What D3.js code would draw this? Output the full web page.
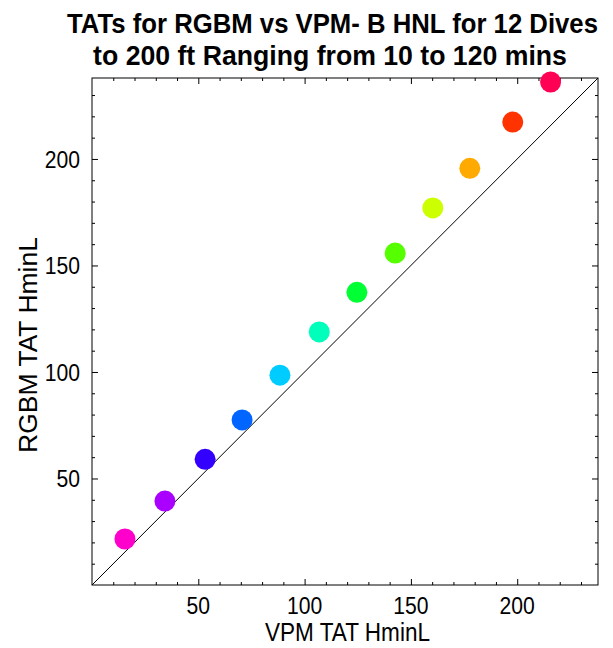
<!DOCTYPE html>
<html><head><meta charset="utf-8">
<script src="https://cdn.jsdelivr.net/npm/d3@7"></script>
<style>body{margin:0;background:#fff}svg{display:block}</style>
</head><body>
<script>
const vpmTAT  = [15.5, 34.3, 53.2, 70.6, 88.4, 106.9, 124.6, 142.6, 160.3, 177.7, 197.9, 215.7];
const rgbmTAT = [21.6, 39.4, 59.0, 77.5, 98.5, 118.8, 137.4, 155.8, 177.0, 195.6, 217.3, 236.1];
const dotColors = ["#FF00CC","#AA00FF","#3300FF","#0066FF","#00CCFF","#00FFBB","#00FF33","#55FF00","#CCFF00","#FFAA00","#FF3300","#FF0055"];
const majorTicks = [50, 100, 150, 200];
const minorTicks = d3.range(10, 240, 10);
const titleLines = ["TATs for RGBM vs VPM- B HNL for 12 Dives", "to 200 ft Ranging from 10 to 120 mins"];
const xLabel = "VPM  TAT HminL";
const yLabel = "RGBM TAT HminL";
const domainMax = 238;

const W = 613, H = 648;
const L = 92, R = 598, T = 78, B = 585;
const FONT = "'Liberation Sans', Arial, sans-serif";
const svg = d3.select("body").append("svg").attr("width", W).attr("height", H)
  .style("font-family", FONT);

const x = d3.scaleLinear().domain([0, domainMax]).range([L, R]);
const y = d3.scaleLinear().domain([0, domainMax]).range([B, T]);

// fit text horizontally (in its own frame) to a target length via scale transform
function fitText(sel, cx, cy, target, rotate) {
  const w = sel.node().getComputedTextLength();
  const s = target / w;
  sel.attr("x", 0).attr("y", 0).attr("text-anchor", "middle")
     .attr("transform", `translate(${cx},${cy})${rotate ? " rotate(" + rotate + ")" : ""} scale(${s},1)`);
}

// title
const titleGeom = [{cx: 332.5, by: 33, len: 531}, {cx: 330, by: 65, len: 474}];
svg.selectAll("text.title").data(titleLines).join("text")
  .attr("class", "title")
  .attr("font-weight", "bold").attr("font-size", 28).attr("fill", "#000")
  .text(d => d)
  .each(function(d, i) { fitText(d3.select(this), titleGeom[i].cx, titleGeom[i].by, titleGeom[i].len); });

// clip
svg.append("clipPath").attr("id", "clip").append("rect")
  .attr("x", L).attr("y", T).attr("width", R - L).attr("height", B - T);

// diagonal y = x
svg.append("line").attr("clip-path", "url(#clip)")
  .attr("x1", x(0)).attr("y1", y(0)).attr("x2", x(domainMax)).attr("y2", y(domainMax))
  .attr("stroke", "#000").attr("stroke-width", 1);

// axes
function tickAxis(axisFn, scale, vals, size, transform) {
  const a = axisFn(scale).tickValues(vals).tickSizeInner(size).tickSizeOuter(0).tickFormat("");
  const g = svg.append("g").attr("transform", transform).call(a);
  g.select(".domain").remove();
  g.selectAll("line").attr("stroke", "#000");
  return g;
}
const minorOnly = minorTicks.filter(v => v % 50);
tickAxis(d3.axisBottom, x, majorTicks, -6, `translate(0,${B})`);
tickAxis(d3.axisBottom, x, minorOnly, -3, `translate(0,${B})`);
tickAxis(d3.axisTop, x, majorTicks, -6, `translate(0,${T})`);
tickAxis(d3.axisTop, x, minorOnly, -3, `translate(0,${T})`);
tickAxis(d3.axisLeft, y, majorTicks, -6, `translate(${L},0)`);
tickAxis(d3.axisLeft, y, minorOnly, -3, `translate(${L},0)`);
tickAxis(d3.axisRight, y, majorTicks, -6, `translate(${R},0)`);
tickAxis(d3.axisRight, y, minorOnly, -3, `translate(${R},0)`);

// tick labels (slightly condensed)
const tfs = 24, sx = 0.88;
svg.append("g").selectAll("text").data(majorTicks).join("text")
  .attr("transform", d => `translate(${x(d)},614) scale(${sx},1)`)
  .attr("text-anchor", "middle").attr("font-size", tfs).attr("fill", "#000")
  .text(d => d);
svg.append("g").selectAll("text").data(majorTicks).join("text")
  .attr("transform", d => `translate(80,${y(d)}) scale(${sx},1)`)
  .attr("text-anchor", "end").attr("dy", "0.36em").attr("font-size", tfs).attr("fill", "#000")
  .text(d => d);

// frame
svg.append("rect").attr("x", L).attr("y", T).attr("width", R - L).attr("height", B - T)
  .attr("fill", "none").attr("stroke", "#000").attr("stroke-width", 1);

// axis labels
fitText(svg.append("text").attr("font-size", 25).attr("fill", "#000").text(xLabel), 347.5, 641, 165);
fitText(svg.append("text").attr("font-size", 25).attr("fill", "#000").text(yLabel), 37, 345, 216, -90);

// points
svg.append("g").selectAll("circle").data(vpmTAT).join("circle")
  .attr("cx", d => x(d)).attr("cy", (d, i) => y(rgbmTAT[i]))
  .attr("r", 10.5).attr("fill", (d, i) => dotColors[i]);
</script>
</body></html>
